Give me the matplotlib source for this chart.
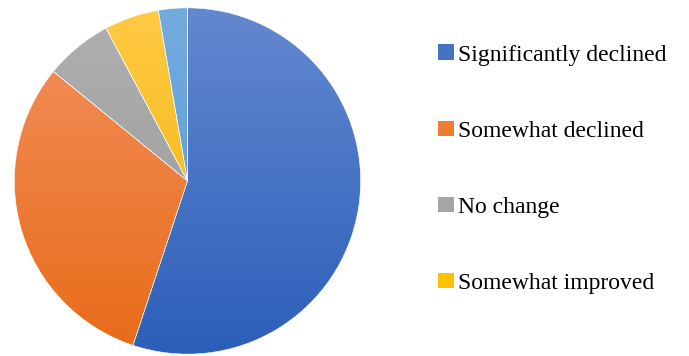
import numpy as np
import matplotlib
matplotlib.use("Agg")
import matplotlib.pyplot as plt
from matplotlib.colors import LinearSegmentedColormap
from matplotlib.patches import Patch

# survey answers, share of respondents (%)
categories = ["Significantly declined", "Somewhat declined", "No change",
              "Somewhat improved", "Significantly improved"]
shares = [55.1, 30.8, 6.3, 5.1, 2.7]
shown_in_legend = 4  # the last entry is cut off in the original

# top (light) / bottom (dark) colour of each slice's gradient
tops = ["#6388cf", "#f39160", "#b0b0b0", "#ffca45", "#74abdf"]
bottoms = ["#2c5fba", "#e86b17", "#969696", "#eeb000", "#5598d8"]
mids = ["#4472c4", "#ed7d31", "#a5a5a5", "#ffc000", "#5b9bd5"]

W, H = 689, 356
fig = plt.figure(figsize=(W / 100, H / 100), dpi=100)
cx, cy, r = 187.5, 181, 174
ax = fig.add_axes([(cx - r) / W, (H - cy - r) / H, 2 * r / W, 2 * r / H])

wedges, _ = ax.pie(shares, startangle=90, counterclock=False, radius=1,
                   colors=bottoms, wedgeprops=dict(edgecolor="white", linewidth=0.4))

grad = np.linspace(0, 1, 256).reshape(-1, 1)
for w, c1, c2 in zip(wedges, tops, bottoms):
    cmap = LinearSegmentedColormap.from_list("g", [c1, c2])
    im = ax.imshow(grad, cmap=cmap, extent=[-1, 1, -1, 1], aspect="auto",
                   origin="upper", zorder=w.get_zorder() + 0.1)
    im.set_clip_path(w)
    w.set_facecolor("none")
    w.set_zorder(w.get_zorder() + 0.2)

ax.set_xlim(-1.005, 1.005)
ax.set_ylim(-1.005, 1.005)
ax.set_aspect("equal")
ax.axis("off")

handles = [Patch(facecolor=c, edgecolor="none") for c in mids[:shown_in_legend]]
leg = fig.legend(handles, categories[:shown_in_legend], loc="upper left",
                 bbox_to_anchor=(429 / W, 1 - 35 / H), frameon=False,
                 prop=dict(family="Liberation Serif", size=17),
                 handlelength=0.64, handleheight=0.64, handletextpad=0.2,
                 labelspacing=2.33, borderaxespad=0)

fig.savefig("out.png", dpi=100)
